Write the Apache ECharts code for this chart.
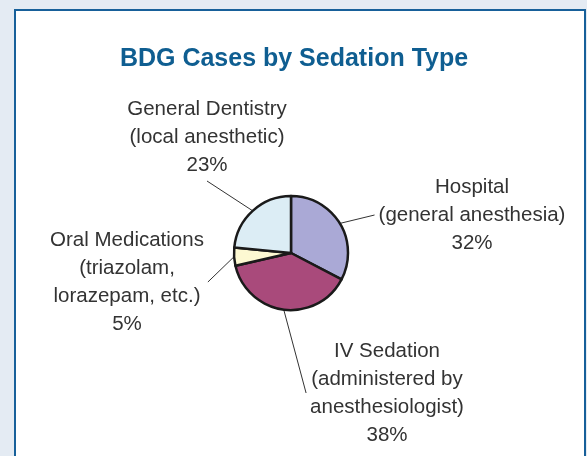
<!DOCTYPE html>
<html>
<head>
<meta charset="utf-8">
<script src="https://cdn.jsdelivr.net/npm/echarts@6/dist/echarts.min.js"></script>
<style>
  html, body { margin: 0; padding: 0; background: #e4ebf3; }
  #chart { width: 587px; height: 456px; }
</style>
</head>
<body>
<div id="chart"></div>
<script>
// 各镇静方式占比
const categories = [
  "Hospital\n(general anesthesia)",
  "IV Sedation\n(administered by\nanesthesiologist)",
  "Oral Medications\n(triazolam,\nlorazepam, etc.)",
  "General Dentistry\n(local anesthetic)"
];
const shares = [32, 38, 5, 23];
const sliceColors = ["#aaa9d6", "#a94a7b", "#fdf9d2", "#dcedf5"];

// 标签中心位置 (手工摆放)
const labelPos = [
  [472, 215],
  [387, 393],
  [127, 282],
  [207, 137]
];

const chart = echarts.init(document.getElementById("chart"));

const option = {
  animation: false,
  backgroundColor: "#e4ebf3",
  title: {
    text: "BDG Cases by Sedation Type",
    left: 289,
    top: 42,
    textAlign: "center",
    textStyle: {
      fontFamily: "Liberation Sans",
      fontWeight: "bold",
      fontSize: 25,
      color: "#0f5e91"
    }
  },
  graphic: [
    {
      type: "rect",
      z: -10,
      shape: { x: 15, y: 10, width: 570, height: 460 },
      style: { fill: "#ffffff", stroke: "#17609a", lineWidth: 2 }
    }
  ],
  series: [
    {
      type: "pie",
      center: [291, 253],
      radius: 57,
      startAngle: 90,
      clockwise: true,
      avoidLabelOverlap: false,
      data: shares.map((v, i) => ({
        name: categories[i],
        value: v,
        itemStyle: { color: sliceColors[i] }
      })),
      itemStyle: { borderColor: "#1a1a1a", borderWidth: 2.5 },
      label: {
        position: "outside",
        formatter: (p) => p.name + "\n" + p.value + "%",
        fontFamily: "Liberation Sans",
        fontSize: 20.5,
        lineHeight: 28,
        color: "#333333",
        align: "center",
        padding: [2, 4]
      },
      labelLine: {
        show: true,
        length2: 0,
        lineStyle: { color: "#333333", width: 1 }
      },
      labelLayout: (params) => ({
        x: labelPos[params.dataIndex][0],
        y: labelPos[params.dataIndex][1],
        align: "center",
        verticalAlign: "middle"
      }),
      emphasis: { disabled: true }
    }
  ]
};

chart.setOption(option);
</script>
</body>
</html>
